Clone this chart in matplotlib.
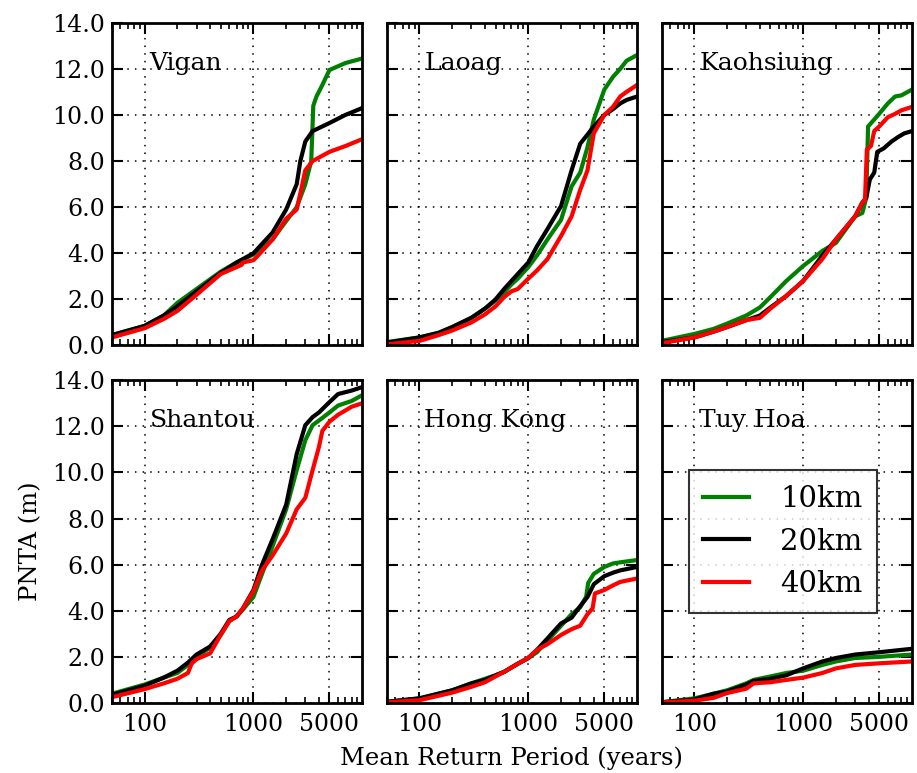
import matplotlib
matplotlib.use('Agg')
import matplotlib.pyplot as plt
from matplotlib.ticker import FixedLocator, FormatStrFormatter, LogLocator, NullFormatter

# return periods (years) and PNTA (m)
vigan_rp_10 = [50, 100, 150, 200, 300, 500, 700, 1000, 1500, 2000, 2500, 3000, 3400, 3550, 3800, 4300, 5000, 7000, 10000]
vigan_10 = [0.45, 0.85, 1.3, 1.85, 2.45, 3.2, 3.6, 3.95, 4.6, 5.4, 6.0, 7.0, 8.0, 10.4, 10.8, 11.3, 11.95, 12.25, 12.45]
vigan_rp_20 = [50, 100, 150, 200, 300, 500, 700, 1000, 1500, 2000, 2500, 2700, 3000, 3500, 5000, 7000, 10000]
vigan_20 = [0.45, 0.85, 1.3, 1.7, 2.35, 3.15, 3.6, 4.0, 4.9, 5.9, 7.0, 8.0, 8.85, 9.3, 9.65, 10.0, 10.3]
vigan_rp_40 = [50, 100, 150, 200, 300, 500, 700, 780, 800, 1000, 1100, 1500, 2000, 2500, 2700, 3000, 3500, 5000, 7000, 10000]
vigan_40 = [0.35, 0.75, 1.15, 1.5, 2.2, 3.1, 3.4, 3.5, 3.6, 3.7, 3.9, 4.6, 5.5, 5.9, 6.6, 7.6, 8.0, 8.4, 8.65, 8.95]

laoag_rp = [50, 100, 150, 200, 300, 400, 500, 600, 700, 800, 1000, 1200, 1500, 2000, 2500, 3000, 3500, 4000, 5000, 6000, 7000, 8000, 10000]
laoag_10 = [0.15, 0.35, 0.55, 0.8, 1.2, 1.6, 1.95, 2.3, 2.65, 2.9, 3.4, 3.9, 4.6, 5.45, 6.9, 7.5, 8.6, 9.8, 11.1, 11.65, 12.0, 12.35, 12.6]
laoag_20 = [0.12, 0.35, 0.55, 0.8, 1.2, 1.6, 2.0, 2.45, 2.8, 3.1, 3.6, 4.3, 5.05, 6.05, 7.6, 8.75, 9.15, 9.5, 10.0, 10.25, 10.5, 10.65, 10.8]
laoag_40 = [0.05, 0.2, 0.45, 0.65, 1.0, 1.35, 1.7, 2.1, 2.35, 2.45, 2.9, 3.25, 3.75, 4.75, 5.6, 6.75, 7.6, 9.2, 10.0, 10.35, 10.8, 11.0, 11.3]

kaoh_rp_10 = [50, 100, 150, 200, 300, 400, 500, 700, 1000, 1500, 2000, 3000, 3500, 3800, 3950, 4500, 5000, 6000, 7000, 8000, 10000]
kaoh_10 = [0.2, 0.5, 0.72, 0.95, 1.3, 1.65, 2.1, 2.8, 3.45, 4.1, 4.45, 5.6, 5.75, 6.4, 9.5, 9.8, 10.05, 10.5, 10.8, 10.85, 11.1]
kaoh_rp_20 = [50, 100, 150, 200, 300, 400, 500, 700, 1000, 1500, 2000, 3000, 3500, 3800, 4100, 4500, 4800, 5500, 6500, 7500, 8500, 10000]
kaoh_20 = [0.15, 0.35, 0.6, 0.8, 1.1, 1.3, 1.65, 2.15, 2.8, 3.9, 4.6, 5.6, 6.2, 6.4, 7.2, 7.5, 8.4, 8.55, 8.85, 9.05, 9.2, 9.3]
kaoh_rp_40 = [50, 100, 150, 200, 300, 400, 500, 700, 1000, 1500, 2000, 3000, 3500, 3700, 3850, 4200, 4500, 5000, 6000, 7000, 8000, 10000]
kaoh_40 = [0.1, 0.35, 0.6, 0.8, 1.1, 1.2, 1.6, 2.15, 2.8, 3.75, 4.6, 5.6, 6.2, 6.3, 8.5, 8.65, 9.3, 9.5, 9.9, 10.05, 10.2, 10.35]

shantou_rp = [50, 100, 150, 200, 250, 300, 400, 500, 600, 700, 800, 1000, 1200, 1500, 2000, 2500, 3000, 3500, 4000, 5000, 6000, 8000, 10000]
shantou_10 = [0.4, 0.8, 1.1, 1.3, 1.65, 2.0, 2.4, 2.95, 3.55, 3.75, 4.05, 4.6, 5.6, 6.8, 8.4, 10.1, 11.4, 12.05, 12.25, 12.6, 12.9, 13.1, 13.35]
shantou_20 = [0.35, 0.75, 1.1, 1.4, 1.75, 2.1, 2.45, 3.0, 3.6, 3.75, 4.1, 4.9, 6.0, 7.1, 8.6, 10.8, 12.05, 12.4, 12.6, 13.05, 13.4, 13.55, 13.7]
shantou_rp_40 = [50, 100, 150, 200, 250, 270, 300, 400, 500, 600, 700, 800, 1000, 1200, 1500, 2000, 2500, 3000, 3500, 4000, 4300, 5000, 6000, 8000, 10000]
shantou_40 = [0.25, 0.6, 0.85, 1.05, 1.3, 1.7, 1.9, 2.15, 2.95, 3.55, 3.75, 4.1, 4.85, 5.75, 6.4, 7.35, 8.4, 8.9, 10.1, 11.1, 11.8, 12.2, 12.5, 12.85, 13.0]

hk_rp_10 = [50, 100, 200, 300, 400, 500, 600, 800, 1000, 1200, 1500, 2000, 2500, 3000, 3400, 3550, 4000, 5000, 6000, 7000, 10000]
hk_10 = [0.05, 0.2, 0.55, 0.85, 1.05, 1.2, 1.35, 1.7, 1.95, 2.2, 2.7, 3.35, 3.85, 4.15, 4.6, 5.2, 5.6, 5.9, 6.05, 6.1, 6.2]
hk_rp_20 = [50, 100, 200, 300, 400, 500, 600, 800, 1000, 1200, 1500, 2000, 2500, 3000, 3500, 4000, 5000, 6000, 7000, 10000]
hk_20 = [0.05, 0.2, 0.55, 0.85, 1.0, 1.2, 1.35, 1.7, 1.95, 2.3, 2.8, 3.45, 3.7, 4.2, 4.6, 5.15, 5.5, 5.65, 5.75, 5.9]
hk_rp_40 = [50, 100, 200, 300, 400, 500, 600, 800, 1000, 1200, 1500, 2000, 2500, 3000, 3500, 3900, 4100, 5000, 6000, 7000, 10000]
hk_40 = [0.03, 0.12, 0.45, 0.7, 0.9, 1.15, 1.35, 1.7, 1.95, 2.3, 2.55, 2.95, 3.2, 3.35, 3.85, 4.1, 4.75, 4.9, 5.1, 5.25, 5.4]

tuyhoa_rp = [50, 100, 150, 200, 300, 350, 500, 700, 1000, 1500, 2000, 3000, 5000, 10000]
tuyhoa_10 = [0.03, 0.2, 0.4, 0.55, 0.85, 1.0, 1.15, 1.3, 1.4, 1.65, 1.8, 1.95, 2.0, 2.1]
tuyhoa_20 = [0.03, 0.15, 0.4, 0.5, 0.8, 0.95, 1.05, 1.2, 1.5, 1.8, 1.95, 2.1, 2.2, 2.35]
tuyhoa_40 = [0.02, 0.1, 0.22, 0.43, 0.62, 0.85, 0.9, 1.0, 1.1, 1.3, 1.5, 1.65, 1.72, 1.8]

site_names = ['Vigan', 'Laoag', 'Kaohsiung', 'Shantou', 'Hong Kong', 'Tuy Hoa']
series_labels = ['10km', '20km', '40km']
series_colors = ['g', 'k', 'r']

sites = [
    [(vigan_rp_10, vigan_10), (vigan_rp_20, vigan_20), (vigan_rp_40, vigan_40)],
    [(laoag_rp, laoag_10), (laoag_rp, laoag_20), (laoag_rp, laoag_40)],
    [(kaoh_rp_10, kaoh_10), (kaoh_rp_20, kaoh_20), (kaoh_rp_40, kaoh_40)],
    [(shantou_rp, shantou_10), (shantou_rp, shantou_20), (shantou_rp_40, shantou_40)],
    [(hk_rp_10, hk_10), (hk_rp_20, hk_20), (hk_rp_40, hk_40)],
    [(tuyhoa_rp, tuyhoa_10), (tuyhoa_rp, tuyhoa_20), (tuyhoa_rp, tuyhoa_40)],
]

plt.rcParams['font.family'] = ['DejaVu Serif']
plt.rcParams['axes.linewidth'] = 2
plt.rcParams['xtick.direction'] = 'in'
plt.rcParams['ytick.direction'] = 'in'
plt.rcParams['xtick.top'] = True
plt.rcParams['ytick.right'] = True
plt.rcParams['xtick.major.size'] = 8
plt.rcParams['ytick.major.size'] = 8
plt.rcParams['xtick.major.width'] = 1.5
plt.rcParams['ytick.major.width'] = 1.5
plt.rcParams['xtick.minor.size'] = 4
plt.rcParams['xtick.minor.width'] = 1.2
plt.rcParams['xtick.major.pad'] = 7
plt.rcParams['ytick.major.pad'] = 5

fig, axes = plt.subplots(2, 3, figsize=(9.17, 7.73), dpi=100, sharex=True, sharey=True)
fig.subplots_adjust(left=0.122, right=0.9945, bottom=0.0906, top=0.9706, wspace=0.098, hspace=0.1075)

for ax, name, curves in zip(axes.flat, site_names, sites):
    for (rp, h), lab, col in zip(curves, series_labels, series_colors):
        ax.plot(rp, h, color=col, lw=3, label=lab)
    ax.set_xscale('log')
    ax.set_xlim(50, 10000)
    ax.set_ylim(0, 14)
    ax.xaxis.set_major_locator(FixedLocator([100, 1000, 5000]))
    ax.xaxis.set_major_formatter(FormatStrFormatter('%d'))
    ax.xaxis.set_minor_locator(LogLocator(base=10, subs=range(2, 10)))
    ax.xaxis.set_minor_formatter(NullFormatter())
    ax.yaxis.set_major_locator(FixedLocator(range(0, 15, 2)))
    ax.yaxis.set_major_formatter(FormatStrFormatter('%.1f'))
    ax.tick_params(labelsize=17)
    ax.grid(True, color='k', linestyle=(0, (1, 4)), lw=1.1)
    ax.text(0.15, 0.855, name, transform=ax.transAxes, fontsize=18)

axes[1, 0].set_ylabel('PNTA (m)', fontsize=17.5, labelpad=7)
axes[1, 1].set_xlabel('Mean Return Period (years)', fontsize=17.5, labelpad=8)

leg = axes[1, 2].legend(loc='center', bbox_to_anchor=(0.484, 0.5), fontsize=21, fancybox=False,
                        handlelength=1.58, handletextpad=1.05, borderpad=0.5, labelspacing=0.5,
                        borderaxespad=0.0)
leg.get_frame().set_edgecolor('k')
leg.get_frame().set_linewidth(1.5)

plt.savefig('out.png', dpi=100)
